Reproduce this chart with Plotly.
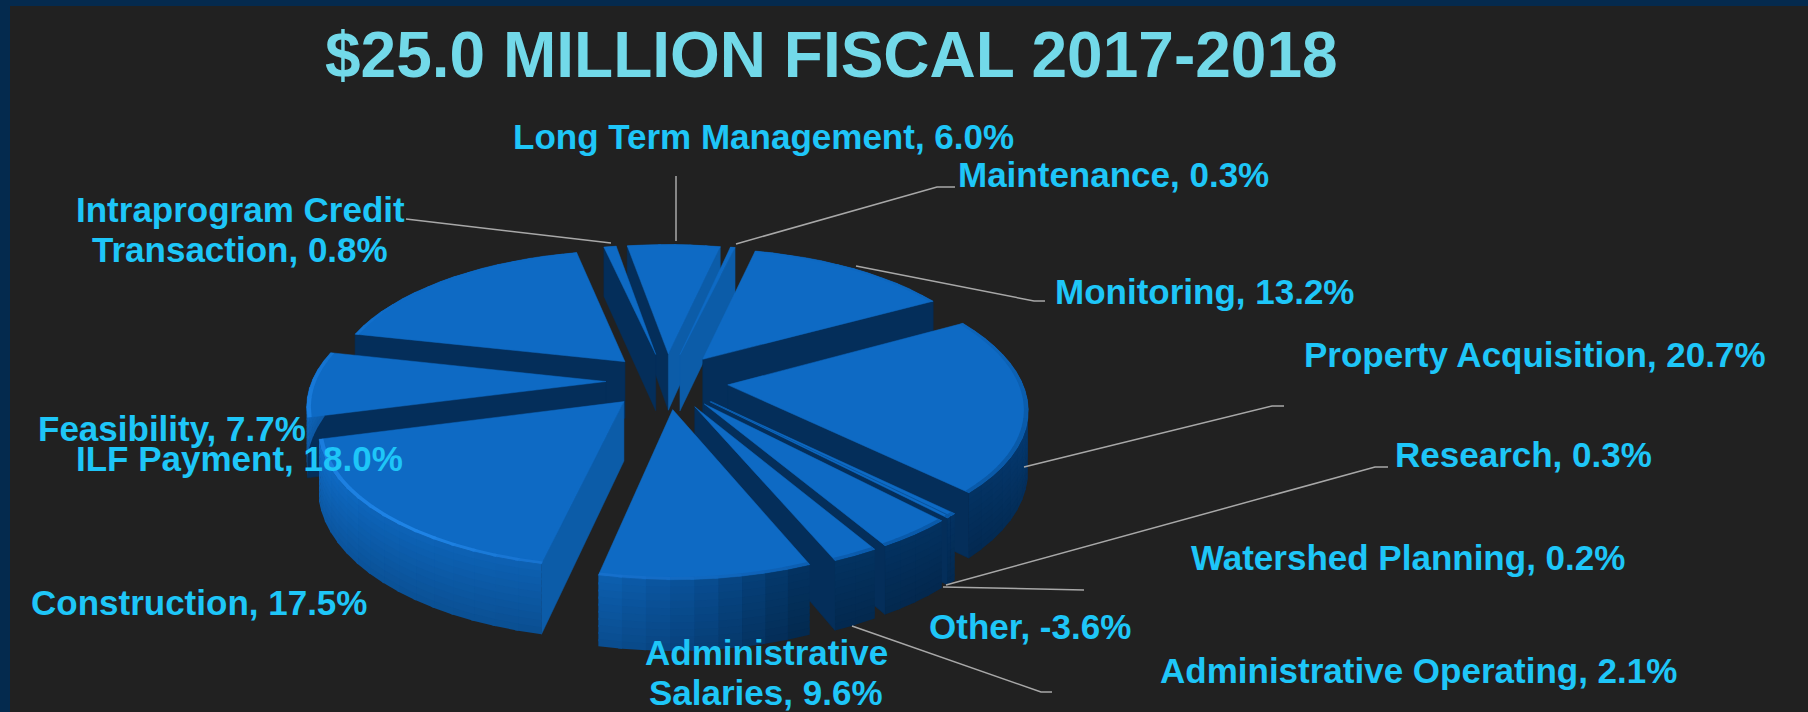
import math
import plotly.graph_objects as go

# ---- data (clockwise from the top slice) ----
categories = ["Long Term Management", "Maintenance", "Monitoring", "Property Acquisition",
              "Research", "Watershed Planning", "Other", "Administrative Operating",
              "Administrative Salaries", "Construction", "Feasibility", "ILF Payment",
              "Intraprogram Credit Transaction"]
values = [6.0, 0.3, 13.2, 20.7, 0.3, 0.2, -3.6, 2.1, 9.6, 17.5, 7.7, 18.0, 0.8]
title_text = "$25.0 MILLION FISCAL 2017-2018"

# ---- layout of the 3D view (pixels) ----
W, H = 1808, 712
CX, CY = 667, 381
RADIUS, PULL, DEPTH = 294, 61, 58
SQUASH, PERSP = 0.456, 0.000524
START_ANGLE = -9.5

TOP = "#0E6AC4"
LABEL = "#1EC6F8"
TITLE = "#72D9E9"


def project(u, v, z=0.0):
    s = 1 / (1 - PERSP * v)
    return CX + u * s, CY + (SQUASH * v + DEPTH * z) * s


def lerp_color(stops, t):
    t = t % 360
    for (a, ca), (b, cb) in zip(stops, stops[1:]):
        if a <= t <= b:
            f = (t - a) / (b - a) if b > a else 0
            return [ca[i] + (cb[i] - ca[i]) * f for i in range(3)]
    return list(stops[-1][1])


def h(c):
    return tuple(int(c[i:i + 2], 16) for i in (1, 3, 5))


WALL = [(0, h("#053A72")), (90, h("#053A72")), (140, h("#032E5A")), (160, h("#03305C")),
        (176, h("#084A8C")), (192, h("#0C5BA8")), (225, h("#0C5EAE")), (256, h("#0F68C0")),
        (360, h("#0F68C0"))]
RIM = [(0, h("#0E6AC4")), (60, h("#0E66BC")), (110, h("#0A5AA8")), (150, h("#0A5AAA")),
       (190, h("#1670CC")), (215, h("#1F84E6")), (260, h("#1A7CDC")), (300, h("#0E6AC4")),
       (360, h("#0E6AC4"))]
N_TIERS = 10
TIERS = [(i / N_TIERS, (i + 1) / N_TIERS, 1.05 - 0.18 * i / (N_TIERS - 1)) for i in range(N_TIERS)]


def css(rgb, k=1.0):
    return "rgb(%d,%d,%d)" % tuple(max(0, min(255, round(c * k))) for c in rgb)


fig = go.Figure()


def poly(points, color, name, edge=0.0):
    xs = [p[0] for p in points] + [points[0][0]]
    ys = [p[1] for p in points] + [points[0][1]]
    fig.add_trace(go.Scatter(x=xs, y=ys, mode="lines", fill="toself", fillcolor=color,
                             line=dict(color=color, width=edge), name=name,
                             hoverinfo="name", showlegend=False))


# slice angles come from the magnitude of each value
total = sum(abs(v) for v in values)
slices = []
a = START_ANGLE
for name, val in zip(categories, values):
    sweep = abs(val) / total * 360
    slices.append((name, val, a, a + sweep))
    a += sweep
# paint far slices first
slices.sort(key=lambda s: -math.cos(math.radians((s[2] + s[3]) / 2)))


def arc_angles(a0, a1, step=4.0):
    n = max(1, math.ceil((a1 - a0) / step))
    return [a0 + (a1 - a0) * i / n for i in range(n + 1)]


for name, val, a0, a1 in slices:
    mid = math.radians((a0 + a1) / 2)
    ox, oy = PULL * math.sin(mid), -PULL * math.cos(mid)

    def P(theta, r, z=0.0):
        t = math.radians(theta)
        return project(ox + r * math.sin(t), oy - r * math.cos(t), z)

    # radial faces (shoelace sign decides which one faces the viewer)
    for edge, normal, sign in ((a0, a0 - 90, -1), (a1, a1 + 90, 1)):
        quad = [P(edge, 0), P(edge, RADIUS), P(edge, RADIUS, 1), P(edge, 0, 1)]
        area = sum(quad[i][0] * quad[(i + 1) % 4][1] - quad[(i + 1) % 4][0] * quad[i][1]
                   for i in range(4))
        if area * sign > 0:
            n = normal % 360
            f = 0.0 if n <= 112 else (1.0 if n >= 140 else (n - 112) / 28)
            light, dark = h("#0C5CA8"), h("#042E5A")
            poly(quad, css([light[i] + (dark[i] - light[i]) * f for i in range(3)]), name, 0.5)

    # outer wall in small overlapping bands
    ang = arc_angles(a0, a1)
    for t0, t1 in zip(ang, ang[1:]):
        tm = (t0 + t1) / 2
        if math.cos(math.radians(tm)) > 0.12:
            continue
        te = min(a1, t1 + 0.6)
        base = lerp_color(WALL, tm)
        for z0, z1, k in TIERS:
            zb = min(1, z1 + 0.03)
            poly([P(t0, RADIUS, z0), P(te, RADIUS, z0), P(te, RADIUS, zb), P(t0, RADIUS, zb)],
                 css(base, k), name)

    # top face
    poly([P(a0, 0)] + [P(t, RADIUS) for t in ang], TOP, name, 0.5)

    # bevel along the rim
    for t0, t1 in zip(ang, ang[1:]):
        tm = (t0 + t1) / 2
        te = min(a1, t1 + 0.6)
        rim = css(lerp_color(RIM, tm))
        poly([P(t0, RADIUS - 4), P(te, RADIUS - 4), P(te, RADIUS), P(t0, RADIUS)], rim, name)

# ---- labels: text is built from the data; each line is (x, y, template) ----
label_pos = {
    "Long Term Management": [(763, 136, "{n}, {v}%")],
    "Maintenance": [(1113, 174, "{n}, {v}%")],
    "Monitoring": [(1204, 291, "{n}, {v}%")],
    "Property Acquisition": [(1535, 354, "{n}, {v}%")],
    "Research": [(1523, 454, "{n}, {v}%")],
    "Watershed Planning": [(1408, 557, "{n}, {v}%")],
    "Other": [(1030, 626, "{n}, {v}%")],
    "Administrative Operating": [(1418, 670, "{n}, {v}%")],
    "Administrative Salaries": [(766, 652, "Administrative"), (766, 692, "Salaries, {v}%")],
    "Construction": [(199, 602, "{n}, {v}%")],
    "Feasibility": [(172, 428, "{n}, {v}%")],
    "ILF Payment": [(239, 458, "{n}, {v}%")],
    "Intraprogram Credit Transaction": [(240, 209, "Intraprogram Credit"),
                                        (240, 249, "Transaction, {v}%")],
}
for name, val in zip(categories, values):
    for x, y, fmt in label_pos[name]:
        text = fmt.format(n=name, v=f"{val:.1f}")
        fig.add_annotation(x=x, y=y, xref="x", yref="y", text=f"<b>{text}</b>",
                           showarrow=False, xanchor="center", yanchor="middle", align="center",
                           font=dict(family="Liberation Sans", size=35, color=LABEL))

fig.add_annotation(x=831, y=55, xref="x", yref="y", text=f"<b>{title_text}</b>", showarrow=False,
                   xanchor="center", yanchor="middle",
                   font=dict(family="Liberation Sans", size=64, color=TITLE))

# ---- leader lines ----
leaders = [
    [(676, 176), (676, 241)],
    [(406, 219), (611, 243)],
    [(736, 244), (937, 187), (955, 187)],
    [(856, 266), (1034, 301), (1045, 301)],
    [(1024, 467), (1272, 406), (1284, 406)],
    [(946, 585), (1375, 467), (1388, 467)],
    [(943, 587), (1084, 590)],
    [(852, 626), (1041, 692), (1052, 692)],
]
shapes = [dict(type="rect", xref="x", yref="y", x0=0, x1=W, y0=0, y1=6, line_width=0,
               fillcolor="#042A4E", layer="below"),
          dict(type="rect", xref="x", yref="y", x0=0, x1=10, y0=0, y1=H, line_width=0,
               fillcolor="#042A4E", layer="below")]
for pts in leaders:
    d = "M" + " L".join(f"{x},{y}" for x, y in pts)
    shapes.append(dict(type="path", xref="x", yref="y", path=d,
                       line=dict(color="#A8A8A8", width=1.5), layer="above"))

fig.update_layout(width=W, height=H, margin=dict(l=0, r=0, t=0, b=0),
                  paper_bgcolor="#212121", plot_bgcolor="#212121", showlegend=False,
                  shapes=shapes,
                  xaxis=dict(range=[0, W], visible=False, fixedrange=True),
                  yaxis=dict(range=[H, 0], visible=False, fixedrange=True))

fig.write_html("out.html", config=dict(displayModeBar=False),
               post_script="document.body.style.margin='0';document.body.style.overflow='hidden';")
